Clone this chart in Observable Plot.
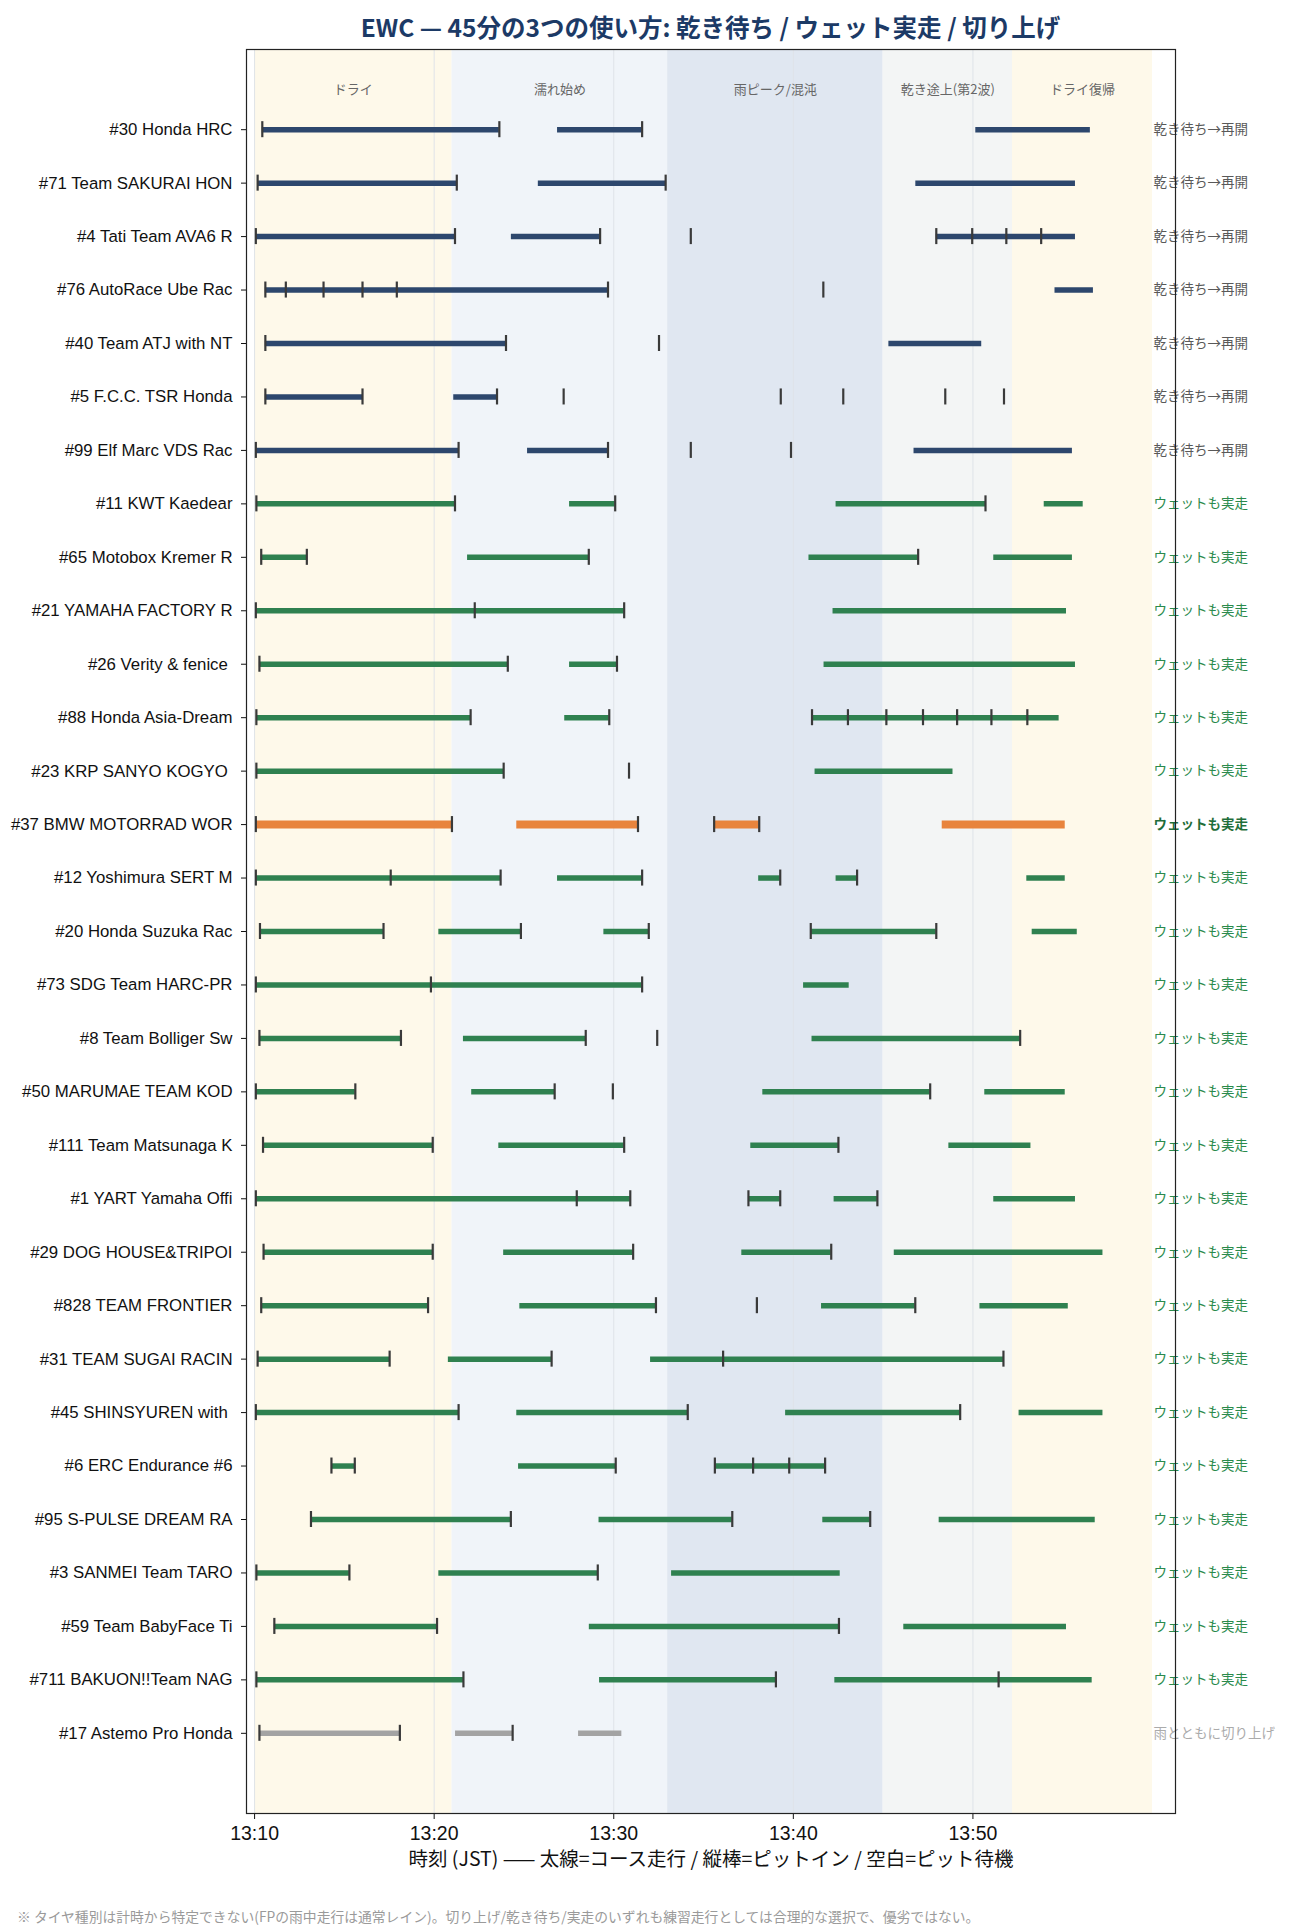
<!DOCTYPE html>
<html><head><meta charset="utf-8">
<script src="https://cdn.jsdelivr.net/npm/d3@7"></script>
<script src="https://cdn.jsdelivr.net/npm/@observablehq/plot@0.6"></script>
<style>
body{margin:0;background:#fff;}
#wrap{position:relative;width:1293px;height:1929px;}
#title{position:absolute;left:236px;width:949px;top:11px;text-align:center;font-family:"Noto Sans CJK JP",sans-serif;font-weight:700;font-size:24.5px;line-height:32px;color:#1c3a66;z-index:2;}
#note{position:absolute;left:17px;top:1906px;font-family:"Noto Sans CJK JP",sans-serif;font-size:13.8px;color:#9a9a9a;white-space:nowrap;}
#chart{position:absolute;left:0;top:0;}
</style></head>
<body><div id="wrap">
<div id="title">EWC — 45分の3つの使い方: 乾き待ち / ウェット実走 / 切り上げ</div>
<div id="chart"></div>
<div id="note">※ タイヤ種別は計時から特定できない(FPの雨中走行は通常レイン)。切り上げ/乾き待ち/実走のいずれも練習走行としては合理的な選択で、優劣ではない。</div>
</div>
<script>
// minutes after 13:10:00 JST
const teams = ["#30 Honda HRC","#71 Team SAKURAI HON","#4 Tati Team AVA6 R","#76 AutoRace Ube Rac","#40 Team ATJ with NT","#5 F.C.C. TSR Honda","#99 Elf Marc VDS Rac","#11 KWT Kaedear","#65 Motobox Kremer R","#21 YAMAHA FACTORY R","#26 Verity & fenice ","#88 Honda Asia-Dream","#23 KRP SANYO KOGYO ","#37 BMW MOTORRAD WOR","#12 Yoshimura SERT M","#20 Honda Suzuka Rac","#73 SDG Team HARC-PR","#8 Team Bolliger Sw","#50 MARUMAE TEAM KOD","#111 Team Matsunaga K","#1 YART Yamaha Offi","#29 DOG HOUSE&TRIPOI","#828 TEAM FRONTIER","#31 TEAM SUGAI RACIN","#45 SHINSYUREN with ","#6 ERC Endurance #6","#95 S-PULSE DREAM RA","#3 SANMEI Team TARO","#59 Team BabyFace Ti","#711 BAKUON!!Team NAG","#17 Astemo Pro Honda"];
const groups = ["wait","wait","wait","wait","wait","wait","wait","wet","wet","wet","wet","wet","wet","wet","wet","wet","wet","wet","wet","wet","wet","wet","wet","wet","wet","wet","wet","wet","wet","wet","quit"];
const highlight = "#37 BMW MOTORRAD WOR";
const stints = [
 [[0.43,13.63],[16.87,21.58],[40.16,46.54]],
 [[0.17,11.26],[15.80,22.89],[36.82,45.71]],
 [[0.07,11.16],[14.30,19.24],[37.96,45.71]],
 [[0.60,19.68],[44.57,46.71]],
 [[0.60,14.00],[35.32,40.49]],
 [[0.60,6.01],[11.09,13.50]],
 [[0.07,11.36],[15.20,19.68],[36.72,45.54]],
 [[0.10,11.16],[17.54,20.08],[32.38,40.70],[43.97,46.14]],
 [[0.37,2.91],[11.86,18.61],[30.87,36.95],[41.16,45.54]],
 [[0.07,20.58],[32.21,45.21]],
 [[0.27,14.10],[17.54,20.18],[31.71,45.71]],
 [[0.10,12.03],[17.27,19.75],[31.04,44.80]],
 [[0.10,13.87],[31.21,38.89]],
 [[0.07,10.99],[14.60,21.35],[25.59,28.10],[38.29,45.14]],
 [[0.07,13.70],[16.87,21.58],[28.07,29.27],[32.38,33.55],[43.00,45.14]],
 [[0.30,7.18],[10.26,14.83],[19.45,21.95],[30.97,37.96],[43.30,45.81]],
 [[0.07,21.58],[30.57,33.11]],
 [[0.27,8.15],[11.63,18.44],[31.04,42.63]],
 [[0.07,5.61],[12.09,16.71],[28.30,37.62],[40.66,45.14]],
 [[0.47,9.92],[13.60,20.58],[27.63,32.51],[38.66,43.23]],
 [[0.07,20.92],[27.50,29.27],[32.27,34.68],[41.16,45.71]],
 [[0.50,9.92],[13.87,21.08],[27.13,32.11],[35.62,47.24]],
 [[0.37,9.66],[14.77,22.35],[31.57,36.79],[40.39,45.31]],
 [[0.17,7.52],[10.79,16.54],[22.05,41.70]],
 [[0.07,11.36],[14.60,24.12],[29.57,39.29],[42.57,47.24]],
 [[4.28,5.58],[14.70,20.11],[25.63,31.77]],
 [[3.14,14.27],[19.18,26.60],[31.64,34.28],[38.12,46.81]],
 [[0.10,5.28],[10.26,19.11],[23.22,32.61]],
 [[1.10,10.16],[18.64,32.54],[36.15,45.21]],
 [[0.10,11.63],[19.21,29.03],[32.31,46.64]],
 [[0.27,8.09],[11.19,14.37],[18.04,20.45]]
];
const pits = [
 [0.43,13.63,21.58],
 [0.17,11.26,22.89],
 [0.07,11.16,19.24,24.29,37.96,39.96,41.86,43.80],
 [0.60,1.74,3.84,6.01,7.92,19.68,31.67],
 [0.60,14.00,22.52],
 [0.60,6.01,13.50,17.21,29.30,32.78,38.46,41.73],
 [0.07,11.36,19.68,24.29,29.87],
 [0.10,11.16,20.08,40.70],
 [0.37,2.91,18.61,36.95],
 [0.07,12.26,20.58],
 [0.27,14.10,20.18],
 [0.10,12.03,19.75,31.04,33.04,35.18,37.22,39.12,41.03,43.03],
 [0.10,13.87,20.85],
 [0.07,10.99,21.35,25.59,28.10],
 [0.07,7.58,13.70,21.58,29.27,33.55],
 [0.30,7.18,14.83,21.95,30.97,37.96],
 [0.07,9.82,21.58],
 [0.27,8.15,18.44,22.42,42.63],
 [0.07,5.61,16.71,19.95,37.62],
 [0.47,9.92,20.58,32.51],
 [0.07,17.94,20.92,27.50,29.27,34.68],
 [0.50,9.92,21.08,32.11],
 [0.37,9.66,22.35,27.97,36.79],
 [0.17,7.52,16.54,26.09,41.70],
 [0.07,11.36,24.12,39.29],
 [4.28,5.58,20.11,25.63,27.76,29.77,31.77],
 [3.14,14.27,26.60,34.28],
 [0.10,5.28,19.11],
 [1.10,10.16,32.54],
 [0.10,11.63,29.03,41.43],
 [0.27,8.09,14.37]
];
const phaseNames = ["ドライ","濡れ始め","雨ピーク/混沌","乾き途上(第2波)","ドライ復帰"];
const phaseStart = [0, 11, 23, 35, 42.2];
const phaseEnd = [11, 23, 35, 42.2, 50];
const phaseFill = ["#fef9ea","#f0f4f9","#e0e7f1","#f3f5f5","#fef9ea"];
const groupLabel = {wait:"乾き待ち→再開", wet:"ウェットも実走", quit:"雨とともに切り上げ"};
const groupColor = {wait:"#2d476d", wet:"#2f8150", quit:"#a3a3a3"};
const groupText = {wait:"#595959", wet:"#2a8a4c", quit:"#ababab"};
const highlightColor = "#e8843d";
const xTicks = [0,10,20,30,40];
const xTickLabels = ["13:10","13:20","13:30","13:40","13:50"];
const axisLabel = "時刻 (JST) —— 太線=コース走行 / 縦棒=ピットイン / 空白=ピット待機";

const rows = teams.map((name,i)=>({i,name,group:groups[i],hl:name===highlight}));
const segs = rows.flatMap(r=>stints[r.i].map(([s,e])=>({row:r.i,s,e,hl:r.hl,color:r.hl?highlightColor:groupColor[r.group]})));
const pitData = rows.flatMap(r=>pits[r.i].map(t=>({row:r.i,t})));
const bands = phaseNames.map((n,k)=>({n,x1:phaseStart[k],x2:phaseEnd[k],fill:phaseFill[k]}));

const font = "'Liberation Sans','Noto Sans CJK JP',sans-serif";
const cjk = "'Noto Sans CJK JP',sans-serif";
const chart = Plot.plot({
  width:1293, height:1880,
  marginLeft:246, marginRight:118, marginTop:49, marginBottom:67,
  style:{fontFamily:font, color:"#111", background:"transparent"},
  x:{domain:[-0.45,51.28]},
  y:{domain:[-1.5,31.5], reverse:true},
  color:{type:"identity"},
  marks:[
    Plot.rect(bands,{x1:"x1",x2:"x2",fill:"fill"}),
    Plot.ruleX(xTicks,{stroke:"#dfe3e8",strokeWidth:1}),
    Plot.text(bands,{x:d=>(d.x1+d.x2)/2,y:-0.75,text:"n",fill:"#666",fontSize:13,fontFamily:cjk}),
    Plot.ruleY(segs.filter(d=>!d.hl),{y:"row",x1:"s",x2:"e",stroke:"color",strokeWidth:5.5}),
    Plot.ruleY(segs.filter(d=>d.hl),{y:"row",x1:"s",x2:"e",stroke:"color",strokeWidth:8}),
    Plot.ruleX(pitData,{x:"t",y1:d=>d.row-0.15,y2:d=>d.row+0.15,stroke:"#3a3a3a",strokeWidth:2.2}),
    Plot.text(rows.filter(r=>!r.hl),{x:50,y:"i",text:r=>groupLabel[r.group],fill:r=>groupText[r.group],textAnchor:"start",dx:1,fontSize:13.5,fontFamily:cjk}),
    Plot.text(rows.filter(r=>r.hl),{x:50,y:"i",text:r=>groupLabel[r.group],fill:"#1f6e3a",fontWeight:"bold",textAnchor:"start",dx:1,fontSize:13.5,fontFamily:cjk}),
    Plot.axisY({ticks:d3.range(teams.length),tickFormat:i=>teams[i],tickSize:5,tickPadding:9,fontSize:16.8,label:null,stroke:"#111"}),
    Plot.axisX({ticks:xTicks,tickFormat:d=>xTickLabels[xTicks.indexOf(d)],tickSize:6,tickPadding:7,fontSize:19.5,label:null,stroke:"#111"}),
    Plot.text([axisLabel],{frameAnchor:"bottom",dy:52,fontSize:19.5,fontFamily:cjk,fill:"#111"}),
    Plot.frame({stroke:"#222",strokeWidth:1.2})
  ]
});
document.getElementById("chart").appendChild(chart);
</script>
</body></html>
